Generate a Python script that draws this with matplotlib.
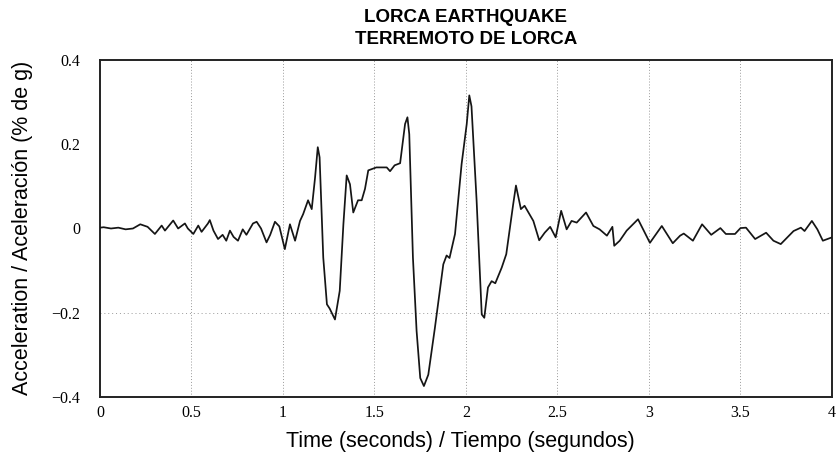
import matplotlib
matplotlib.use("Agg")
import matplotlib.pyplot as plt

# Time (s) and acceleration (g)
time_s = [
    0.00, 0.02, 0.06, 0.10, 0.14, 0.18, 0.22, 0.26, 0.30, 0.337, 0.355, 0.40, 0.427,
    0.464, 0.48, 0.51, 0.537, 0.555, 0.59, 0.60, 0.62, 0.645, 0.67, 0.69, 0.71, 0.73,
    0.754, 0.78, 0.80, 0.836, 0.856, 0.88, 0.91, 0.93, 0.956, 0.98, 1.01, 1.038, 1.066,
    1.093, 1.11, 1.137, 1.157, 1.175, 1.19, 1.20, 1.22, 1.24, 1.255, 1.266, 1.284, 1.31,
    1.33, 1.348, 1.366, 1.384, 1.41, 1.43, 1.448, 1.466, 1.51, 1.54, 1.567, 1.585, 1.61,
    1.64, 1.667, 1.68, 1.69, 1.71, 1.73, 1.75, 1.77, 1.794, 1.83, 1.876, 1.894, 1.91,
    1.94, 1.976, 2.004, 2.018, 2.03, 2.058, 2.086, 2.10, 2.12, 2.14, 2.16, 2.195, 2.22,
    2.24, 2.258, 2.273, 2.30, 2.32, 2.368, 2.40, 2.43, 2.46, 2.49, 2.52, 2.55, 2.577,
    2.605, 2.656, 2.696, 2.73, 2.77, 2.80, 2.81, 2.84, 2.878, 2.94, 3.005, 3.07, 3.13,
    3.17, 3.19, 3.24, 3.29, 3.34, 3.39, 3.42, 3.47, 3.50, 3.53, 3.58, 3.64, 3.68, 3.72,
    3.79, 3.83, 3.85, 3.89, 3.92, 3.95, 4.00,
]
accel_g = [
    0.002, 0.003, 0.000, 0.002, -0.002, 0.000, 0.010, 0.004, -0.013, 0.007, -0.005, 0.019, 0.000,
    0.012, 0.000, -0.013, 0.007, -0.008, 0.012, 0.020, -0.005, -0.025, -0.015, -0.029, -0.005, -0.020,
    -0.029, -0.002, -0.015, 0.012, 0.016, 0.000, -0.033, -0.015, 0.016, 0.005, -0.049, 0.010, -0.029,
    0.018, 0.034, 0.067, 0.046, 0.120, 0.193, 0.169, -0.069, -0.180, -0.190, -0.200, -0.216, -0.148,
    0.010, 0.126, 0.105, 0.038, 0.067, 0.067, 0.094, 0.138, 0.145, 0.145, 0.145, 0.136, 0.150,
    0.155, 0.248, 0.264, 0.224, -0.069, -0.243, -0.355, -0.374, -0.347, -0.236, -0.085, -0.064, -0.070,
    -0.013, 0.153, 0.248, 0.316, 0.290, 0.066, -0.204, -0.212, -0.140, -0.125, -0.130, -0.093, -0.061,
    0.002, 0.058, 0.102, 0.046, 0.054, 0.018, -0.028, -0.010, 0.004, -0.021, 0.042, -0.002, 0.018,
    0.014, 0.038, 0.006, -0.002, -0.017, 0.004, -0.041, -0.029, -0.005, 0.022, -0.034, 0.006, -0.035,
    -0.017, -0.012, -0.029, 0.010, -0.015, 0.001, -0.013, -0.013, 0.001, 0.002, -0.025, -0.010, -0.029, -0.037,
    -0.006, 0.002, -0.006, 0.018, -0.002, -0.029, -0.021,
]

x_ticks = [0, 0.5, 1, 1.5, 2, 2.5, 3, 3.5, 4]
x_tick_labels = ["0", "0.5", "1", "1.5", "2", "2.5", "3", "3.5", "4"]
y_ticks = [-0.4, -0.2, 0, 0.2, 0.4]
y_tick_labels = ["\u22120.4", "\u22120.2", "0", "0.2", "0.4"]

title_lines = ["LORCA EARTHQUAKE", "TERREMOTO DE LORCA"]
x_label = "Time (seconds) / Tiempo (segundos)"
y_label = "Acceleration / Aceleración (% de g)"

fig = plt.figure(figsize=(8.37, 4.59), dpi=100)
ax = fig.add_axes([100 / 837, 62 / 459, 732 / 837, 337 / 459])

ax.plot(time_s, accel_g, color="#151515", lw=1.25, zorder=3)

ax.set_xlim(0, 4)
ax.set_ylim(-0.4, 0.4)

for xv in x_ticks[1:-1]:
    ax.axvline(xv, color="#9a9a9a", lw=0.7, ls=(0, (1, 2)), zorder=1)
ax.axhline(-0.2, color="#9a9a9a", lw=0.7, ls=(0, (1, 3)), zorder=1)

ax.set_xticks(x_ticks)
ax.set_xticklabels(x_tick_labels, family="Liberation Serif", fontsize=11.5)
ax.set_yticks(y_ticks)
ax.set_yticklabels(y_tick_labels, family="Liberation Serif", fontsize=11.5)
ax.tick_params(axis="x", length=0, pad=6)
ax.tick_params(axis="y", length=0, pad=14)

for s in ax.spines.values():
    s.set_linewidth(1.4)
    s.set_color("#222222")

ax.set_xlabel(x_label, family="Liberation Sans", fontsize=15.5, va="center")
ax.xaxis.set_label_coords((460.5 - 100) / 732, (397 - 441) / 337)
ax.set_ylabel(y_label, family="Liberation Sans", fontsize=15.5, va="center")
ax.yaxis.set_label_coords((23 - 100) / 732, (397 - 228) / 337)

fig.text(466 / 837, 1 - 18 / 459, title_lines[0], ha="center", va="center",
         family=["Liberation Sans Narrow", "Liberation Sans"], fontweight="bold", fontsize=13.5)
fig.text(466 / 837, 1 - 39 / 459, title_lines[1], ha="center", va="center",
         family=["Liberation Sans Narrow", "Liberation Sans"], fontweight="bold", fontsize=13.5)

fig.savefig("out.png", dpi=100)
